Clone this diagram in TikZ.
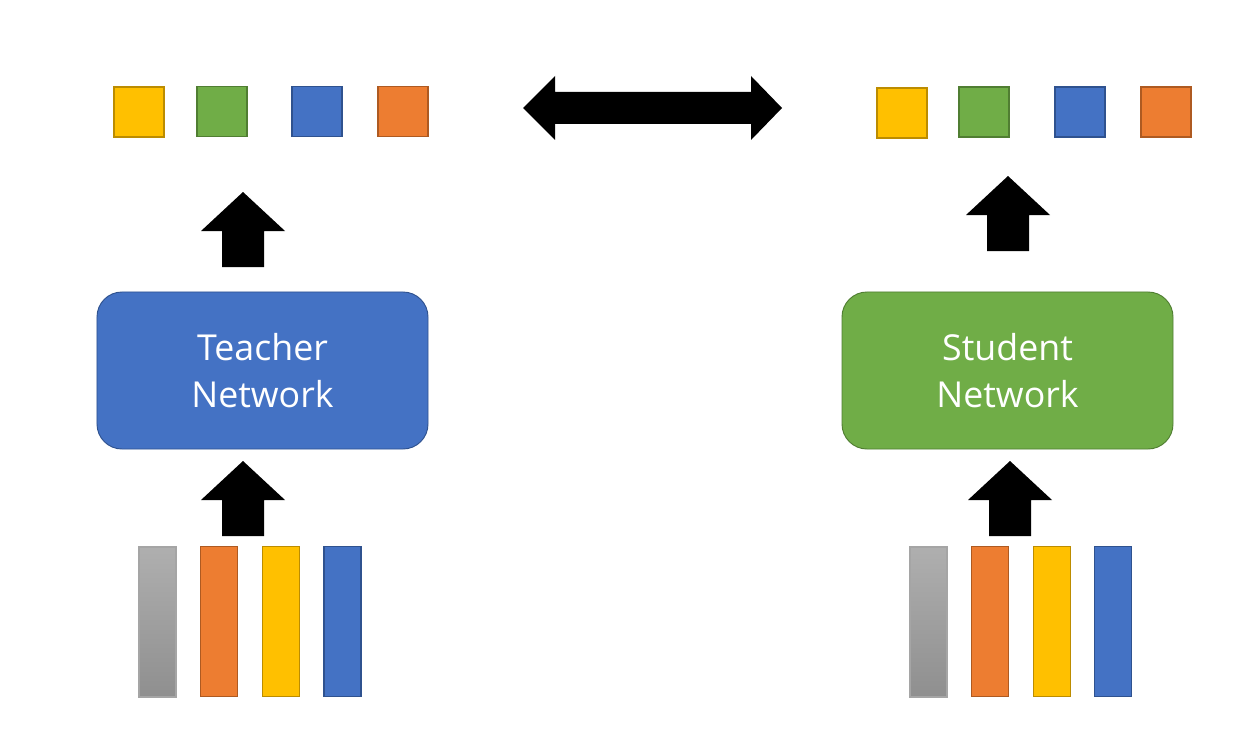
\documentclass[tikz,border=0pt]{standalone}
\usepackage{fontspec}
\setmainfont{Open Sans}
\usepackage{tikz}
\usepackage{xcolor}
\definecolor{tblue}{HTML}{4472C4}
\definecolor{tblueline}{HTML}{2F528F}
\definecolor{tgreen}{HTML}{70AD47}
\definecolor{tgreenline}{HTML}{507E32}
\definecolor{torange}{HTML}{ED7D31}
\definecolor{torangeline}{HTML}{AE5A21}
\definecolor{tyellow}{HTML}{FFC000}
\definecolor{tyellowline}{HTML}{BC8C00}
\definecolor{tgraytop}{HTML}{AFAFAF}
\definecolor{tgraybot}{HTML}{8F8F8F}
\definecolor{tgrayline}{HTML}{A5A5A5}

\begin{document}
\begin{tikzpicture}
	[x=0.03cm, y=-0.03cm,
	net/.style = {
		draw, line width=0.8pt, rounded corners=0.75cm,
		minimum width=9.93cm, minimum height=4.71cm,
		text=white, align=center, font=\fontsize{30.5}{40}\selectfont
	},
	logit/.style = {
		draw, line width=1.6pt, inner sep=0cm, minimum size=1.5cm
	},
	token/.style = {
		draw, line width=1pt, inner sep=0cm,
		minimum width=1.11cm, minimum height=4.5cm
	},
	upblock/.pic = {
		\fill (0,0) -- (42,39) -- (21,39) -- (21,75) -- (-21,75)
		-- (-21,39) -- (-42,39) -- cycle;
	}]
	\useasboundingbox (0,0) rectangle (1235,734);
	
	%Draw nodes
	\node[net, fill=tblue, draw=tblueline] at (262.5,370.5) (teacher) {Teacher\\Network};
	\node[net, fill=tgreen, draw=tgreenline] at (1007.5,370.5) (student) {Student\\Network};
	
	\node[logit, fill=tyellow, draw=tyellowline] at (139,112) (ty) {};
	\node[logit, fill=tgreen, draw=tgreenline] at (222,111.5) (tg) {};
	\node[logit, fill=tblue, draw=tblueline] at (317,111.5) (tb) {};
	\node[logit, fill=torange, draw=torangeline] at (403,111.5) (to) {};
	\node[logit, fill=tyellow, draw=tyellowline] at (902,113) (sy) {};
	\node[logit, fill=tgreen, draw=tgreenline] at (984,112) (sg) {};
	\node[logit, fill=tblue, draw=tblueline] at (1080,112) (sb) {};
	\node[logit, fill=torange, draw=torangeline] at (1166,112) (so) {};
	
	\node[token, top color=tgraytop, bottom color=tgraybot, draw=tgrayline] at (157.5,622) (tx1) {};
	\node[token, fill=torange, draw=torangeline] at (219,621.5) (tx2) {};
	\node[token, fill=tyellow, draw=tyellowline] at (281,621.5) (tx3) {};
	\node[token, fill=tblue, draw=tblueline] at (342.5,621.5) (tx4) {};
	\node[token, top color=tgraytop, bottom color=tgraybot, draw=tgrayline] at (928.5,622) (sx1) {};
	\node[token, fill=torange, draw=torangeline] at (990,621.5) (sx2) {};
	\node[token, fill=tyellow, draw=tyellowline] at (1052,621.5) (sx3) {};
	\node[token, fill=tblue, draw=tblueline] at (1113,621.5) (sx4) {};
	
	%Draw arrows
	\pic at (243,192) {upblock};
	\pic at (243,461) {upblock};
	\pic at (1008,176) {upblock};
	\pic at (1010,461) {upblock};
	\fill (523,108) -- (555,76) -- (555,92) -- (751,92) -- (751,76) -- (782,108)
	-- (751,140) -- (751,124) -- (555,124) -- (555,140) -- cycle;
\end{tikzpicture}
\end{document}
